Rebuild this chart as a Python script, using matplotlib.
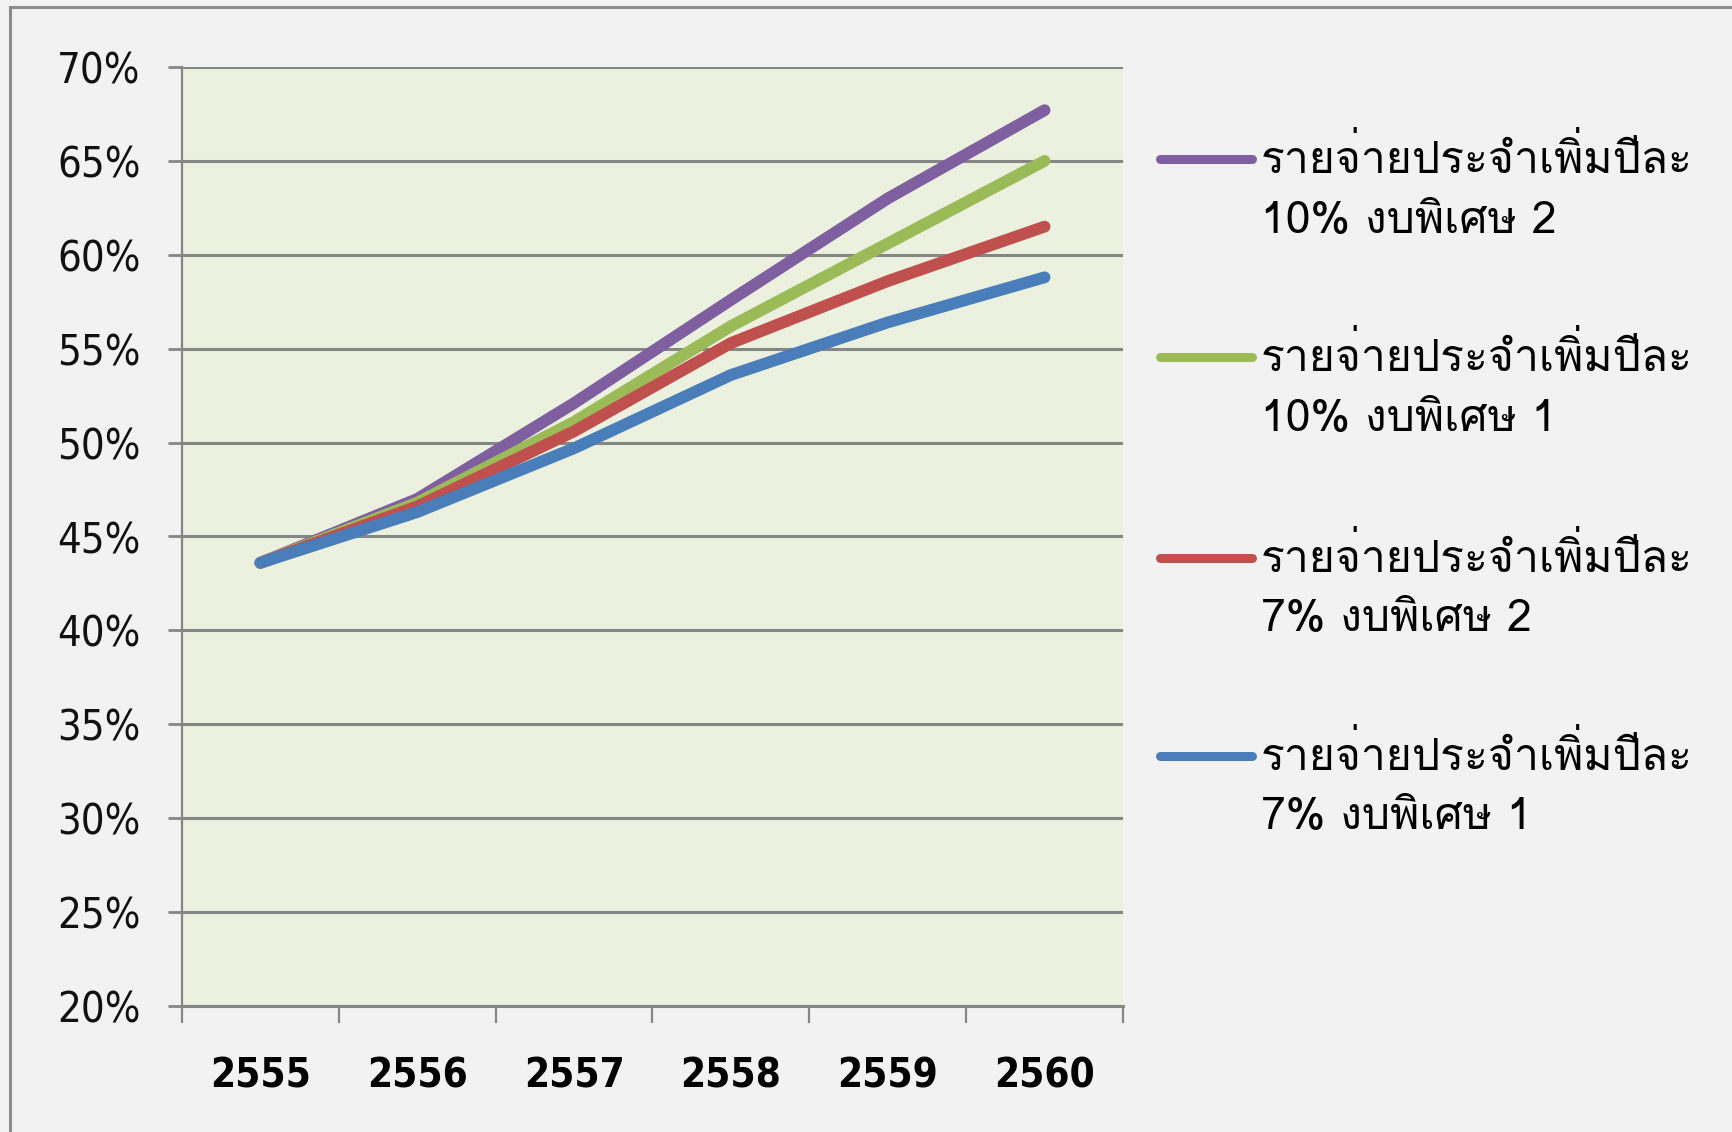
import matplotlib
matplotlib.use('Agg')
import matplotlib.pyplot as plt
from matplotlib import font_manager
from matplotlib.ft2font import FT2Font
from matplotlib.lines import Line2D
import numpy as np

# share of spending by fiscal year (Buddhist era)
years = ['2555', '2556', '2557', '2558', '2559', '2560']
inc10_extra2 = [43.6, 47.0, 52.1, 57.6, 63.0, 67.7]
inc10_extra1 = [43.6, 46.8, 51.1, 56.2, 60.6, 65.0]
inc7_extra2 = [43.6, 46.6, 50.6, 55.3, 58.6, 61.5]
inc7_extra1 = [43.6, 46.3, 49.7, 53.6, 56.4, 58.8]

series = [
    (inc10_extra2, '#7F5FA0', 'รายจ่ายประจำเพิ่มปีละ\n10% งบพิเศษ 2'),
    (inc10_extra1, '#9BBB59', 'รายจ่ายประจำเพิ่มปีละ\n10% งบพิเศษ 1'),
    (inc7_extra2, '#C0504D', 'รายจ่ายประจำเพิ่มปีละ\n7% งบพิเศษ 2'),
    (inc7_extra1, '#4A7EBB', 'รายจ่ายประจำเพิ่มปีละ\n7% งบพิเศษ 1'),
]
yticks = list(range(20, 75, 5))


def find_thai_font():
    # first installed font that carries Thai glyphs
    for f in font_manager.fontManager.ttflist:
        try:
            cmap = FT2Font(f.fname).get_charmap()
        except Exception:
            continue
        if 0x0E23 in cmap and 0x0E1B in cmap and 0x0E34 in cmap:
            return f.name
    return 'DejaVu Sans'


thai = find_thai_font()

W, H = 1732, 1132
fig = plt.figure(figsize=(W / 100, H / 100), dpi=100)
fig.patch.set_facecolor('#F2F2F2')

ax = fig.add_axes([182 / W, 1 - 1006 / H, (1123 - 182) / W, (1006 - 67) / H])
ax.set_facecolor('#EBF1DE')

x = np.arange(len(years))
for vals, col, lab in series:
    ax.plot(x, vals, color=col, lw=8.5, solid_capstyle='round', solid_joinstyle='round', zorder=3)

ax.set_xlim(-0.5, len(years) - 0.5)
ax.set_ylim(20, 70)
ax.set_yticks(yticks)
ax.set_yticklabels([f'{v}%' for v in yticks])
ax.set_xticks(x)
ax.set_xticklabels(years)
ax.set_xticks(np.arange(-0.5, len(years)), minor=True)
ax.grid(axis='y', color='#868686', lw=2.2, zorder=1)
ax.set_axisbelow(True)

for s in ['top', 'right']:
    ax.spines[s].set_visible(False)
ax.spines['left'].set_color('#868686')
ax.spines['left'].set_linewidth(1.6)
ax.spines['bottom'].set_color('#868686')
ax.spines['bottom'].set_linewidth(2.2)

ax.tick_params(axis='y', length=10, width=2, color='#868686', pad=20,
               labelsize=30, labelcolor='#111111')
ax.tick_params(axis='x', which='major', length=0, pad=36, labelsize=29, labelcolor='#000000')
ax.tick_params(axis='x', which='minor', length=12, width=1.6, color='#868686')
for t in ax.get_yticklabels():
    t.set_fontstretch('condensed')
for t in ax.get_xticklabels():
    t.set_fontweight('bold')
    t.set_fontstretch('condensed')

# legend drawn on the right side, key aligned with the first text line
key_y = [159, 357, 558, 756]
for (vals, col, lab), yk in zip(series, key_y):
    fig.add_artist(Line2D([1160 / W, 1252 / W], [1 - yk / H, 1 - yk / H], color=col, lw=6.5,
                          solid_capstyle='round', transform=fig.transFigure))
    first, second = lab.split('\n')
    fig.text(1261 / W, 1 - yk / H, first, family=[thai, 'DejaVu Sans'], fontsize=32,
             va='center', ha='left', color='#000000')
    fig.text(1261 / W, 1 - (yk + 62) / H, second, family=[thai, 'DejaVu Sans'], fontsize=32,
             va='center', ha='left', color='#000000')

# outer chart frame (left and top edges)
fig.add_artist(Line2D([10 / W, 10 / W], [0, 1 - 7 / H], color='#8C8C8C', lw=2.2,
                      transform=fig.transFigure))
fig.add_artist(Line2D([10 / W, 1], [1 - 7 / H, 1 - 7 / H], color='#8C8C8C', lw=2.2,
                      transform=fig.transFigure))

fig.savefig('out.png', dpi=100, facecolor=fig.get_facecolor())
